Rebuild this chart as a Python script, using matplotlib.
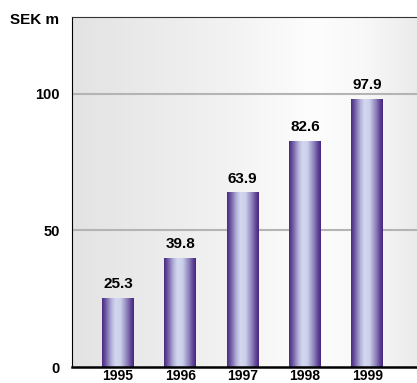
import matplotlib
matplotlib.use("Agg")
import matplotlib.pyplot as plt
import numpy as np
from matplotlib.colors import LinearSegmentedColormap

plt.rcParams['font.family'] = ['Liberation Sans', 'DejaVu Sans']
plt.rcParams['font.weight'] = 'bold'

years = ['1995', '1996', '1997', '1998', '1999']
sales = [25.3, 39.8, 63.9, 82.6, 97.9]

x = np.arange(len(years))
width = 0.51

fig = plt.figure(figsize=(4.17, 3.83), dpi=100)
ax = fig.add_axes([0.1727, 0.041, 0.8273, 0.9144])
ax.set_xlim(-0.74, 4.80)
ax.set_ylim(0, 128)

# soft horizontal shading behind the bars
bg = LinearSegmentedColormap.from_list(
    'bg', [(0, '#e3e3e3'), (0.15, '#e8e8e8'), (0.45, '#f2f2f2'),
           (0.7, '#fdfdfd'), (0.85, '#f8f8f8'), (1.0, '#ebebeb')])
ax.imshow(np.linspace(0, 1, 256)[None, :], cmap=bg, aspect='auto',
          extent=[0, 1, 0, 1], transform=ax.transAxes, zorder=0)

# grid lines
for v in (50, 100):
    ax.axhline(v, color='#b4b4b4', lw=1.5, zorder=1)

# cylinder-like shading on each bar
barcmap = LinearSegmentedColormap.from_list(
    'bar', [(0, '#48287f'), (0.12, '#6f5aa3'), (0.3, '#b5b4da'),
            (0.42, '#d3d7ef'), (0.58, '#ccd0ea'), (0.78, '#8d82bb'),
            (0.92, '#5b3f92'), (1.0, '#47267d')])
rects = ax.bar(x, sales, width, color='none', zorder=2)
grad = np.linspace(0, 1, 256)[None, :]
for rect in rects:
    x0 = rect.get_x()
    im = ax.imshow(grad, cmap=barcmap, aspect='auto',
                   extent=[x0, x0 + rect.get_width(), 0, rect.get_height()],
                   zorder=2)
    im.set_clip_path(rect)
    ax.annotate('{}'.format(rect.get_height()),
                xy=(rect.get_x() + rect.get_width() / 2, rect.get_height()),
                xytext=(0, 5), textcoords='offset points',
                ha='center', va='bottom', fontsize=11, fontweight='bold')

ax.set_xticks(x)
ax.set_xticklabels(years)
ax.set_yticks([0, 50, 100])
ax.tick_params(axis='both', length=0, labelsize=10.5)
ax.tick_params(axis='y', pad=9)
ax.tick_params(axis='x', pad=1, labelsize=10)

ax.spines['right'].set_visible(False)
ax.spines['top'].set_color('#333333')
ax.spines['top'].set_linewidth(0.8)
ax.spines['left'].set_linewidth(0.8)
ax.spines['bottom'].set_linewidth(1.8)

fig.text(0.024, 0.948, 'SEK m', fontsize=11, fontweight='bold', va='center')

fig.savefig('out.png', dpi=100)
